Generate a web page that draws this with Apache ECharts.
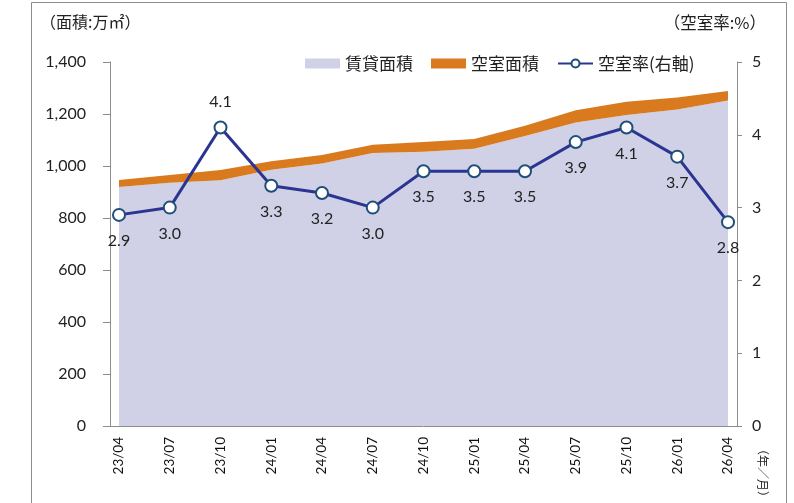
<!DOCTYPE html>
<html>
<head>
<meta charset="utf-8">
<script src="https://cdn.jsdelivr.net/npm/echarts@6/dist/echarts.min.js"></script>
<style>
  html, body { margin: 0; padding: 0; background: #fff; }
  #main { width: 794px; height: 503px; }
</style>
</head>
<body>
<div id="main"></div>
<script>
// 期間（年/月）
var months = ['23/04', '23/07', '23/10', '24/01', '24/04', '24/07', '24/10', '25/01', '25/04', '25/07', '25/10', '26/01', '26/04'];
// 賃貸面積（万㎡）
var rentedArea = [919, 936, 945, 986, 1010, 1050, 1055, 1066, 1115, 1167, 1196, 1217, 1252];
// 空室面積（万㎡）
var vacantArea = [27, 29, 40, 32, 32, 32, 37, 38, 40, 47, 51, 46, 36];
// 空室率（%）
var vacancyRate = [2.9, 3.0, 4.1, 3.3, 3.2, 3.0, 3.5, 3.5, 3.5, 3.9, 4.1, 3.7, 2.8];

var jpFont = "'Noto Sans CJK JP', sans-serif";
var numFont = "Lato, 'Noto Sans CJK JP', sans-serif";

var chart = echarts.init(document.getElementById('main'), null, { renderer: 'canvas' });

/*ラベルを上に出す点*/
var aboveIdx = [2];

var option = {
  animation: false,
  backgroundColor: '#fff',
  graphic: [{
    type: 'rect',
    shape: { x: 31.5, y: 2.5, width: 755, height: 520 },
    style: { fill: 'none', stroke: '#8c8c8c', lineWidth: 1 },
    z: -1
  }, {
    type: 'text',
    left: 40, top: 14,
    style: { text: '（面積:万㎡）', font: '16px ' + jpFont, fill: '#222' }
  }, {
    type: 'text',
    right: 28, top: 14,
    style: { text: '（空室率:%）', font: '16.5px ' + jpFont, fill: '#222' }
  }, {
    type: 'text',
    x: 763, y: 443,
    rotation: -Math.PI / 2,
    style: { text: '（年／月）', font: '12px ' + jpFont, fill: '#222', verticalAlign: 'middle' }
  }],
  legend: {
    left: 300,
    top: 50,
    itemWidth: 35,
    itemHeight: 10,
    itemGap: 18,
    textStyle: { fontFamily: jpFont, fontSize: 17, color: '#222' },
    data: [
      { name: '賃貸面積', icon: 'rect' },
      { name: '空室面積', icon: 'rect' },
      { name: '空室率(右軸)' }
    ]
  },
  grid: [
    { left: 119, right: 66, top: 62, bottom: 77 },
    { left: 110, right: 57, top: 62, bottom: 77 }
  ],
  xAxis: [{
    type: 'category',
    gridIndex: 0,
    data: months,
    boundaryGap: false,
    axisLine: { show: false },
    axisTick: { show: false },
    splitLine: { show: false },
    axisLabel: {
      rotate: 90,
      margin: 11,
      interval: 0,
      color: '#111',
      fontFamily: numFont,
      fontSize: 13.5
    }
  }, {
    // 枠線用の横軸
    type: 'value',
    gridIndex: 1,
    min: 0, max: 1,
    axisLine: { show: true, onZero: false, lineStyle: { color: '#8c8c8c', width: 1 } },
    axisTick: { show: false },
    axisLabel: { show: false },
    splitLine: { show: false }
  }],
  yAxis: [{
    type: 'value',
    gridIndex: 0,
    position: 'left',
    offset: 9,
    min: 0, max: 1400, interval: 200,
    axisLine: { show: true, lineStyle: { color: '#8c8c8c' } },
    axisTick: { show: true, length: 7, lineStyle: { color: '#8c8c8c' } },
    splitLine: { show: false },
    axisLabel: {
      margin: 24,
      color: '#222',
      fontFamily: numFont,
      fontSize: 16,
      formatter: function (v) { return v.toLocaleString('en-US'); }
    }
  }, {
    type: 'value',
    gridIndex: 0,
    position: 'right',
    offset: 9,
    min: 0, max: 5, interval: 1,
    axisLine: { show: true, lineStyle: { color: '#8c8c8c' } },
    axisTick: { show: true, length: 5, lineStyle: { color: '#8c8c8c' } },
    splitLine: { show: false },
    axisLabel: {
      margin: 15,
      color: '#222',
      fontFamily: numFont,
      fontSize: 16
    }
  }, {
    type: 'value',
    gridIndex: 1,
    show: false
  }],
  series: [{
    name: '賃貸面積',
    type: 'line',
    stack: 'area',
    data: rentedArea,
    symbol: 'none',
    lineStyle: { width: 0 },
    areaStyle: { color: '#d0d1e6', opacity: 1 },
    itemStyle: { color: '#d0d1e6' },
    z: 1
  }, {
    name: '空室面積',
    type: 'line',
    stack: 'area',
    data: vacantArea,
    symbol: 'none',
    lineStyle: { width: 0 },
    areaStyle: { color: '#d97a1f', opacity: 1 },
    itemStyle: { color: '#d97a1f' },
    z: 1
  }, {
    name: '空室率(右軸)',
    type: 'line',
    yAxisIndex: 1,
    data: vacancyRate.map(function (v, i) {
      return {
        value: v,
        label: { position: aboveIdx.indexOf(i) >= 0 ? 'top' : 'bottom' }
      };
    }),
    symbol: 'circle',
    symbolSize: 12,
    lineStyle: { color: '#2b3591', width: 3 },
    itemStyle: { color: '#fff', borderColor: '#1f4e79', borderWidth: 2 },
    label: {
      show: true,
      distance: 11,
      color: '#222',
      fontFamily: numFont,
      fontSize: 16,
      formatter: function (p) { return p.value.toFixed(1); }
    },
    z: 3
  }]
};

chart.setOption(option);
</script>
</body>
</html>
